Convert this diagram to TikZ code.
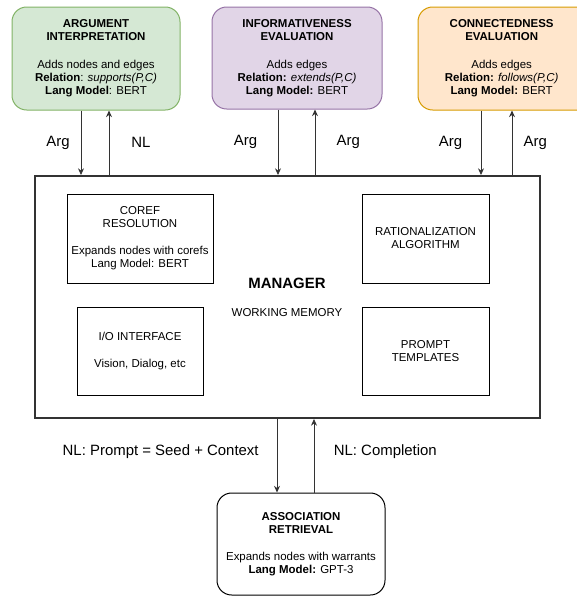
\documentclass[tikz,border=0pt]{standalone}
\usepackage{fontspec}
\setmainfont{Liberation Sans}
\usepackage{xcolor}
\usetikzlibrary{arrows.meta, positioning, calc}

\definecolor{argfill}{HTML}{D5E8D4}
\definecolor{argline}{HTML}{82B366}
\definecolor{inffill}{HTML}{E1D5E7}
\definecolor{infline}{HTML}{9673A6}
\definecolor{confill}{HTML}{FFE6CC}
\definecolor{conline}{HTML}{D79B00}
\definecolor{wiregray}{HTML}{333333}

\begin{document}
\begin{tikzpicture}[x=0.75pt, y=-0.75pt,
  agent/.style={rectangle, rounded corners=11pt, draw, line width=0.75pt, align=center, inner sep=0pt, font=\fontsize{8.6}{9.75}\selectfont},
  part/.style={rectangle, draw=black, line width=0.6pt, align=center, inner sep=0pt, font=\fontsize{8.6}{9.75}\selectfont},
  flow/.style={-{Stealth[length=5pt, width=4.5pt]}, draw=wiregray, line width=0.6pt},
  lbl/.style={font=\fontsize{11.2}{13}\selectfont, inner sep=0pt}]
\useasboundingbox (0,0) rectangle (577,596);

% agents on top
\node[agent, fill=argfill, draw=argline, minimum width=126pt, minimum height=77.25pt] (arg) at (96,58.5)
  {\textbf{ARGUMENT}\\\textbf{INTERPRETATION}\\[11.25pt]Adds nodes and edges\\\textbf{Relation}: \textit{supports(P,C)}\\\textbf{Lang Model}: BERT};
\node[agent, fill=inffill, draw=infline, minimum width=127.5pt, minimum height=76.5pt] (inf) at (297,58)
  {\textbf{INFORMATIVENESS}\\\textbf{EVALUATION}\\[11.25pt]Adds edges\\\textbf{Relation:} \textit{extends(P,C)}\\\textbf{Lang Model:} BERT};
% runs past the right margin, so its text sits apart
\node[agent, fill=confill, draw=conline, minimum width=136.5pt, minimum height=77.25pt] (con) at (509,58.5) {};
\node[agent, draw=none, fill=none] (contxt) at ([xshift=-5.5pt]con.center)
  {\textbf{CONNECTEDNESS}\\\textbf{EVALUATION}\\[11.25pt]Adds edges\\\textbf{Relation:} \textit{follows(P,C)}\\\textbf{Lang Model:} BERT};

% manager and its parts
\node[rectangle, draw=wiregray, line width=1.5pt, minimum width=378.75pt, minimum height=181.5pt] (mgr) at (287.5,297) {};
\node[font=\fontsize{11.2}{13}\selectfont\bfseries, inner sep=0pt] (mgrtitle) at (287,283) {MANAGER};
\node[font=\fontsize{8.6}{9.75}\selectfont, inner sep=0pt] (wmem) at (287,313) {WORKING MEMORY};
\node[part, minimum width=109.5pt, minimum height=66.75pt] (coref) at (140,238.5)
  {COREF\\RESOLUTION\\[10.5pt]Expands nodes with corefs\\Lang Model: BERT};
\node[part, minimum width=94.5pt, minimum height=66pt] (io) at (140,351)
  {I/O INTERFACE\\[10.5pt]Vision, Dialog, etc};
\node[part, minimum width=95.25pt, minimum height=66.75pt] (rat) at (425.5,238.5)
  {RATIONALIZATION\\ALGORITHM};
\node[part, minimum width=95.25pt, minimum height=66pt] (prm) at (425.5,351)
  {PROMPT\\TEMPLATES};

% retrieval below
\node[agent, draw=black, minimum width=126pt, minimum height=76.5pt] (assoc) at (301,544)
  {\textbf{ASSOCIATION}\\\textbf{RETRIEVAL}\\[10.5pt]Expands nodes with warrants\\\textbf{Lang Model:} GPT-3};

% connectors
\draw[flow] ([xshift=-11.25pt]arg.south) -- ([xshift=-154.875pt]mgr.north) node[lbl, midway, left=8.25pt] (argin) {Arg};
\draw[flow] ([xshift=-133.875pt]mgr.north) -- ([xshift=9.75pt]arg.south) node[lbl, midway, right=16.5pt] (argout) {NL};
\draw[flow] ([xshift=-14.25pt]inf.south) -- ([xshift=-7.125pt]mgr.north) node[lbl, midway, left=15.3pt] (infin) {Arg};
\draw[flow] ([xshift=20.625pt]mgr.north) -- ([xshift=13.5pt]inf.south) node[lbl, midway, right=16pt] (infout) {Arg};
\draw[flow] ([xshift=-21pt]con.south) -- ([xshift=145.125pt]mgr.north) node[lbl, midway, left=13.8pt] (conin) {Arg};
\draw[flow] ([xshift=168.375pt]mgr.north) -- ([xshift=2.25pt]con.south) node[lbl, midway, right=8.5pt] (conout) {Arg};
\draw[flow] ([xshift=-7.875pt]mgr.south) -- ([xshift=-18pt]assoc.north) node[lbl, midway, left=13.5pt, yshift=3pt] (prompt) {NL: Prompt = Seed + Context};
\draw[flow] ([xshift=9.75pt]assoc.north) -- ([xshift=19.875pt]mgr.south) node[lbl, midway, right=14.6pt, yshift=3pt] (compl) {NL: Completion};
\end{tikzpicture}
\end{document}
